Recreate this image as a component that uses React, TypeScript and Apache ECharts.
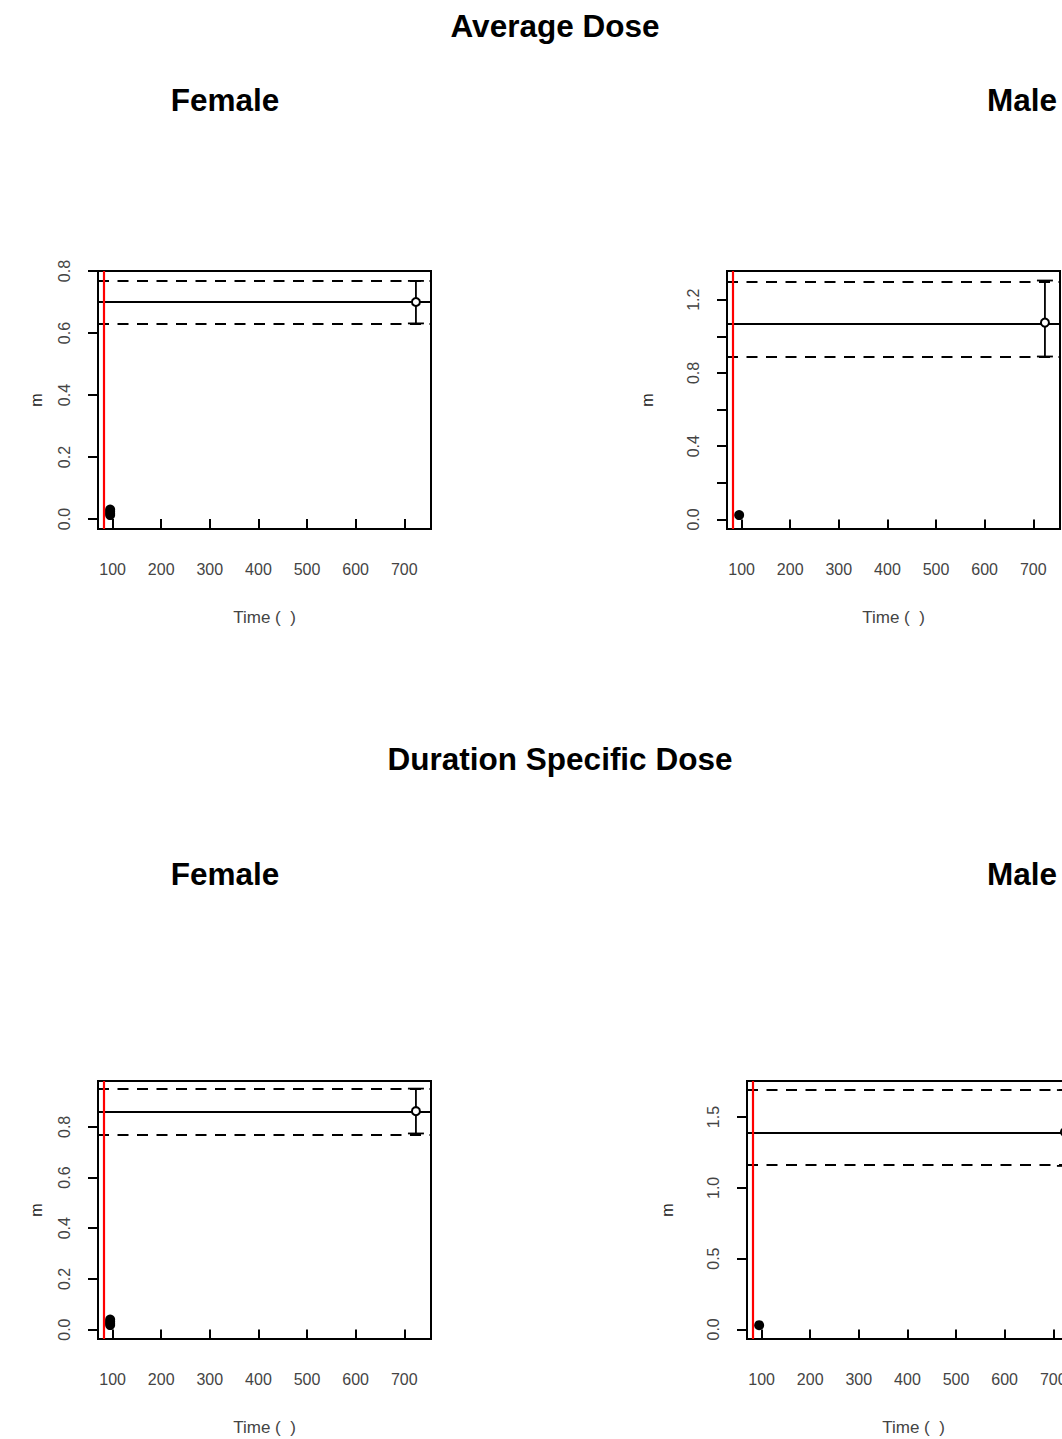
import React, { useEffect, useRef } from "react";
import * as echarts from "echarts";

// ---------- data ----------
const X_RANGE = [70, 755];
const X_TICKS = [100, 200, 300, 400, 500, 600, 700];
const RED_LINE_X = 81;
const DOT_X = 95;
const BAR_X = 724;

const PANEL_NAMES = ["Female", "Male", "Female", "Male"];
const SECTION_TITLES = ["Average Dose", "Duration Specific Dose"];
const X_LABEL = "Time (  )";
const Y_LABEL = "m";

// y axis ranges per panel
const Y_MIN = [-0.032, -0.052, -0.037, -0.068];
const Y_MAX = [0.8, 1.357, 0.981, 1.755];
// tick positions and labelled ticks per panel
const Y_TICKS = [
  [0, 0.2, 0.4, 0.6, 0.8],
  [0, 0.2, 0.4, 0.6, 0.8, 1.0, 1.2],
  [0, 0.2, 0.4, 0.6, 0.8],
  [0, 0.5, 1.0, 1.5],
];
const Y_LABELS = [
  [0, 0.2, 0.4, 0.6, 0.8],
  [0, 0.4, 0.8, 1.2],
  [0, 0.2, 0.4, 0.6, 0.8],
  [0, 0.5, 1.0, 1.5],
];
// estimate and confidence bounds per panel
const MEAN = [0.7, 1.075, 0.862, 1.394];
const UPPER = [0.768, 1.305, 0.951, 1.691];
const LOWER = [0.631, 0.89, 0.774, 1.155];
// individual observations near the start
const DOTS_FEMALE_AVG = [0.013, 0.019, 0.025, 0.031];
const DOTS_MALE_AVG = [0.024];
const DOTS_FEMALE_DUR = [0.018, 0.025, 0.032, 0.04];
const DOTS_MALE_DUR = [0.03];
const DOTS = [DOTS_FEMALE_AVG, DOTS_MALE_AVG, DOTS_FEMALE_DUR, DOTS_MALE_DUR];

// ---------- layout ----------
const FONT = "'Liberation Sans', Arial, Helvetica, sans-serif";
const BOXES = [
  { left: 98, top: 271, width: 333, height: 258, ylabX: 36 },
  { left: 727, top: 271, width: 333, height: 258, ylabX: 647 },
  { left: 98, top: 1081, width: 333, height: 258, ylabX: 36 },
  { left: 747, top: 1081, width: 333, height: 258, ylabX: 667 },
];
const LINE_W = 1.8;

function buildOption() {
  const grid: any[] = [];
  const xAxis: any[] = [];
  const yAxis: any[] = [];
  const series: any[] = [];
  const graphic: any[] = [];

  BOXES.forEach((b, i) => {
    grid.push({
      left: b.left,
      top: b.top,
      width: b.width,
      height: b.height,
      show: true,
      borderColor: "#000",
      borderWidth: 2,
      backgroundColor: "transparent",
      containLabel: false,
    });
    xAxis.push({
      type: "value",
      gridIndex: i,
      min: X_RANGE[0],
      max: X_RANGE[1],
      axisLine: { show: false },
      splitLine: { show: false },
      axisTick: {
        show: true,
        length: 10,
        customValues: X_TICKS,
        lineStyle: { color: "#000", width: 2 },
      },
      axisLabel: {
        customValues: X_TICKS,
        margin: 32,
        fontSize: 16,
        fontFamily: FONT,
        color: "#444",
        formatter: (v: number) => String(Math.round(v)),
      },
    });
    yAxis.push({
      type: "value",
      gridIndex: i,
      min: Y_MIN[i],
      max: Y_MAX[i],
      axisLine: { show: false },
      splitLine: { show: false },
      axisTick: {
        show: true,
        length: 10,
        customValues: Y_TICKS[i],
        lineStyle: { color: "#000", width: 2 },
      },
      axisLabel: {
        customValues: Y_LABELS[i],
        rotate: 90,
        margin: 26,
        fontSize: 16,
        fontFamily: FONT,
        color: "#444",
        formatter: (v: number) => v.toFixed(1),
      },
    });

    series.push({
      type: "scatter",
      xAxisIndex: i,
      yAxisIndex: i,
      symbol: "circle",
      symbolSize: 10,
      itemStyle: { color: "#000", opacity: 1 },
      data: DOTS[i].map((v) => [DOT_X, v]),
      z: 3,
      markLine: {
        silent: true,
        symbol: ["none", "none"],
        label: { show: false },
        emphasis: { disabled: true },
        data: [
          { yAxis: MEAN[i], lineStyle: { color: "#000", width: LINE_W, type: "solid", opacity: 1 } },
          { yAxis: UPPER[i], lineStyle: { color: "#000", width: LINE_W, type: [11, 8.5], opacity: 1 } },
          { yAxis: LOWER[i], lineStyle: { color: "#000", width: LINE_W, type: [11, 8.5], opacity: 1 } },
          { xAxis: RED_LINE_X, lineStyle: { color: "#ff0000", width: 2.2, type: "solid", opacity: 1 } },
        ],
      },
    });
    series.push({
      type: "custom",
      xAxisIndex: i,
      yAxisIndex: i,
      data: [[BAR_X, LOWER[i], UPPER[i]]],
      encode: { x: 0, y: [1, 2] },
      z: 4,
      renderItem: (params: any, api: any) => {
        const x = api.value(0);
        const lo = api.coord([x, api.value(1)]);
        const hi = api.coord([x, api.value(2)]);
        const cap = 8;
        const st = { stroke: "#000", lineWidth: LINE_W };
        return {
          type: "group",
          children: [
            { type: "line", shape: { x1: lo[0], y1: lo[1], x2: hi[0], y2: hi[1] }, style: st },
            { type: "line", shape: { x1: lo[0] - cap, y1: lo[1], x2: lo[0] + cap, y2: lo[1] }, style: st },
            { type: "line", shape: { x1: hi[0] - cap, y1: hi[1], x2: hi[0] + cap, y2: hi[1] }, style: st },
          ],
        };
      },
    });
    series.push({
      type: "scatter",
      xAxisIndex: i,
      yAxisIndex: i,
      symbol: "circle",
      symbolSize: 8,
      itemStyle: { color: "#fff", borderColor: "#000", borderWidth: 2, opacity: 1 },
      data: [[BAR_X, MEAN[i]]],
      z: 5,
    });

    // axis titles
    graphic.push({
      type: "text",
      x: b.left + b.width / 2,
      y: b.top + b.height + 88,
      style: {
        text: X_LABEL,
        fontSize: 17,
        fontFamily: FONT,
        fill: "#444",
        align: "center",
        verticalAlign: "middle",
      },
    });
    graphic.push({
      type: "text",
      x: b.ylabX,
      y: b.top + b.height / 2,
      rotation: Math.PI / 2,
      style: {
        text: Y_LABEL,
        fontSize: 16,
        fontFamily: FONT,
        fill: "#222",
        align: "center",
        verticalAlign: "middle",
      },
    });
  });

  const titleStyle = (text: string) => ({
    text,
    fontSize: 31.5,
    fontWeight: "bold",
    fontFamily: FONT,
    fill: "#000",
    align: "center",
    verticalAlign: "middle",
  });
  graphic.push({ type: "text", x: 555, y: 26, style: titleStyle(SECTION_TITLES[0]) });
  graphic.push({ type: "text", x: 560, y: 759, style: titleStyle(SECTION_TITLES[1]) });
  graphic.push({ type: "text", x: 225, y: 100, style: titleStyle(PANEL_NAMES[0]) });
  graphic.push({ type: "text", x: 1022, y: 100, style: titleStyle(PANEL_NAMES[1]) });
  graphic.push({ type: "text", x: 225, y: 874, style: titleStyle(PANEL_NAMES[2]) });
  graphic.push({ type: "text", x: 1022, y: 874, style: titleStyle(PANEL_NAMES[3]) });

  return {
    animation: false,
    backgroundColor: "#fff",
    grid,
    xAxis,
    yAxis,
    series,
    graphic,
  };
}

export default function App() {
  const ref = useRef<HTMLDivElement>(null);
  useEffect(() => {
    document.body.style.margin = "0";
    const chart = echarts.init(ref.current!, null, { renderer: "svg" });
    chart.setOption(buildOption() as any);
    return () => chart.dispose();
  }, []);
  return (
    <div style={{ width: 1062, height: 1439, overflow: "hidden", position: "relative" }}>
      <div ref={ref} style={{ width: 1120, height: 1439 }} />
    </div>
  );
}
